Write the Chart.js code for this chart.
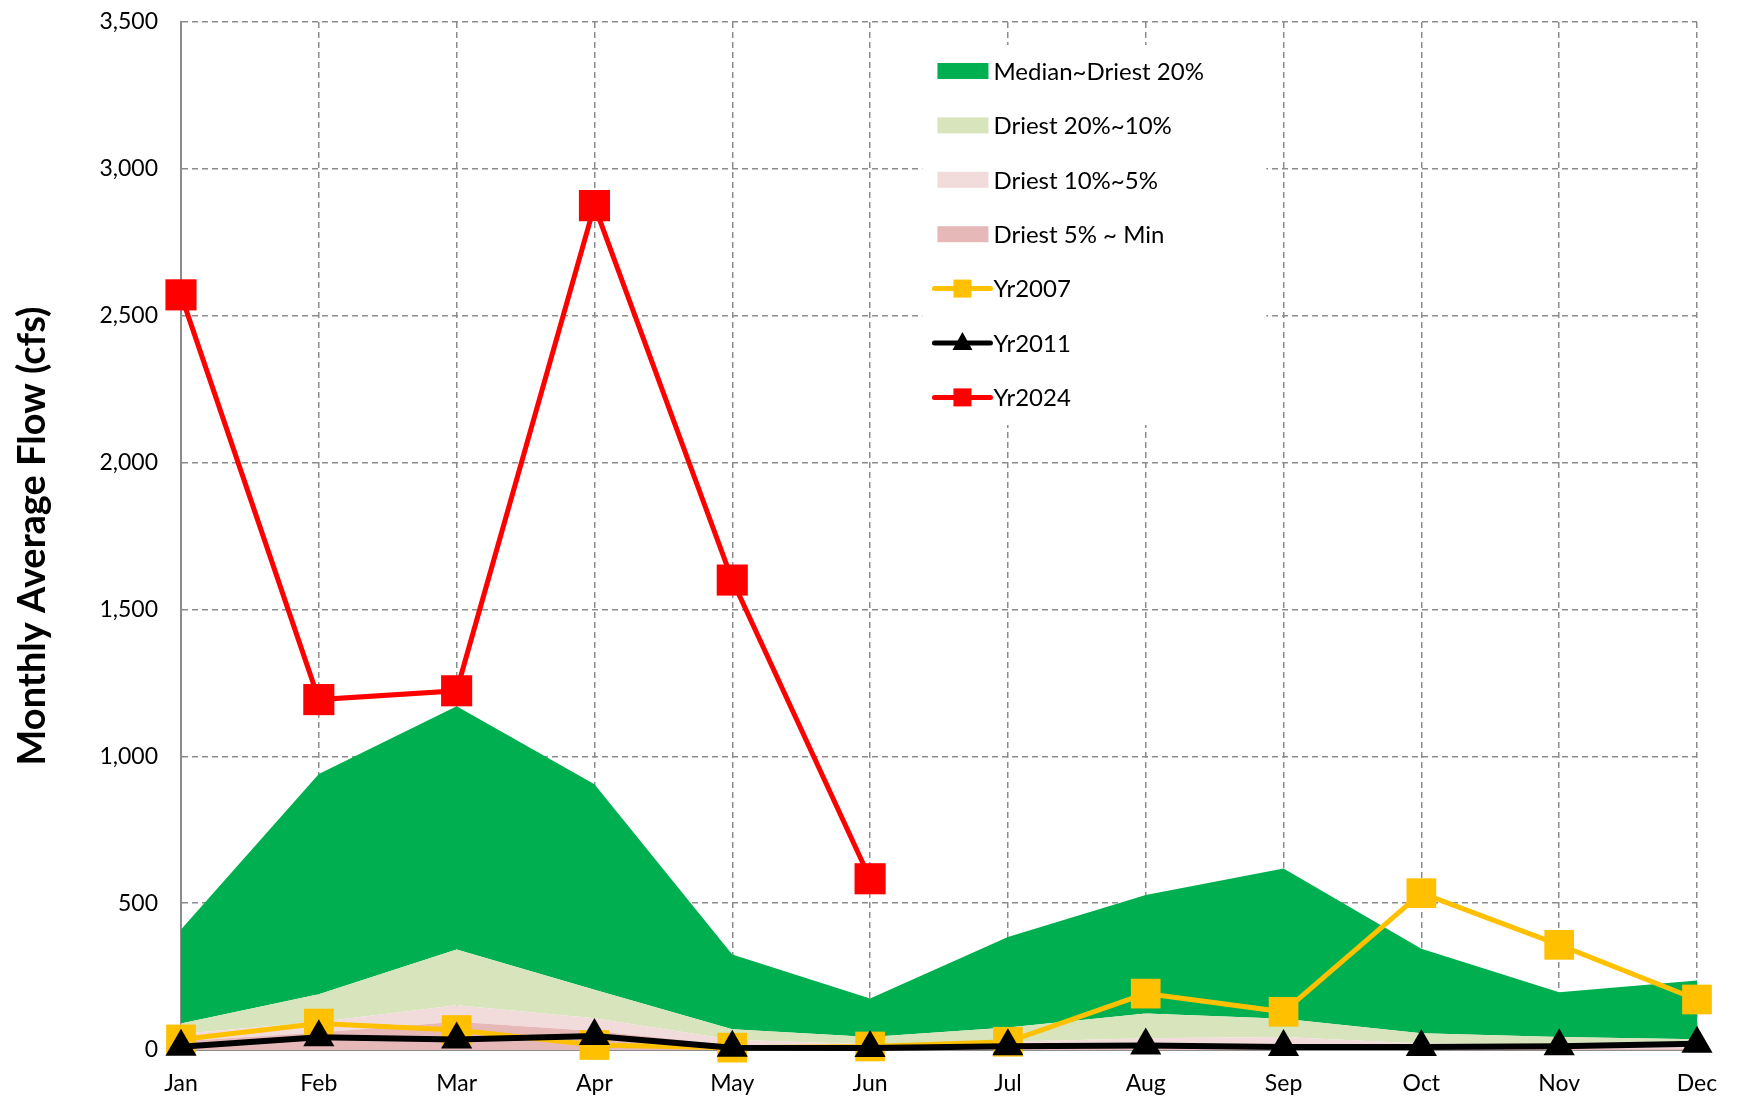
<!DOCTYPE html>
<html>
<head>
<meta charset="utf-8">
<title>Monthly Average Flow</title>
<script src="https://cdn.jsdelivr.net/npm/chart.js@4.4.0/dist/chart.umd.min.js"></script>
<style>
  html, body { margin: 0; padding: 0; background: #ffffff; }
  #flowChart { display: block; }
</style>
</head>
<body>
<canvas id="flowChart" width="1742" height="1099"></canvas>
<script>
// Months on the x axis
const months = ['Jan', 'Feb', 'Mar', 'Apr', 'May', 'Jun', 'Jul', 'Aug', 'Sep', 'Oct', 'Nov', 'Dec'];

// Upper edges of the percentile bands (cfs)
const medianFlow = [410, 940, 1170, 905, 325, 175, 385, 528, 618, 345, 197, 237];
const driest20 = [90, 190, 342, 205, 71, 44, 77, 124, 106, 57, 44, 37];
const driest10 = [55, 95, 152, 108, 35, 20, 28, 40, 44, 22, 17, 10];
const driest5 = [30, 60, 96, 65, 17, 11, 10, 12, 12, 8, 6, 5];

// Individual years (cfs)
const yr2007 = [36, 90, 68, 17, 8, 12, 28, 192, 130, 534, 358, 172];
const yr2011 = [11, 43, 36, 48, 8, 7, 13, 15, 10, 10, 13, 21];
const yr2024 = [2571, 1193, 1223, 2875, 1600, 583, null, null, null, null, null, null];

// Y axis ticks
const yMin = 0;
const yMax = 3500;
const yStep = 500;

const colores = {
    mediana: '#00B050',
    seco20: '#D8E4BC',
    seco10: '#F2DCDB',
    seco5: '#E6B9B8',
    y2007: '#FFC000',
    y2011: '#000000',
    y2024: '#FF0000',
    rejilla: '#8C8C8C'
};

Chart.defaults.font.family = "Lato, 'Open Sans', sans-serif";
Chart.defaults.color = '#000000';

function banda(label, data, color, fill) {
    return {
        label: label,
        data: data,
        backgroundColor: color,
        borderColor: color,
        borderWidth: 0,
        pointRadius: 0,
        pointHoverRadius: 0,
        tension: 0,
        fill: fill,
        order: 10
    };
}

function serie(label, data, color, style, radius, width, order) {
    return {
        label: label,
        data: data,
        borderColor: color,
        backgroundColor: color,
        borderWidth: width,
        pointStyle: style,
        pointRadius: radius,
        pointHoverRadius: radius,
        pointBorderWidth: 0,
        pointBackgroundColor: color,
        tension: 0,
        fill: false,
        clip: false,
        order: order
    };
}

// Legend drawn inside the plot, like the original
const leyendaInterna = {
    id: 'leyendaInterna',
    afterDatasetsDraw(chart) {
        const { ctx, chartArea } = chart;
        const w = chartArea.right - chartArea.left;
        const boxX = chartArea.left + w * 0.489;
        const boxY = chartArea.top + 23;
        const iconX = chartArea.left + w * 0.497;
        const textX = iconX + 59;
        const firstY = chartArea.top + 49;
        const gap = 54.4;

        const items = [
            { t: 'Median~Driest 20%', c: colores.mediana, tipo: 'area' },
            { t: 'Driest 20%~10%', c: colores.seco20, tipo: 'area' },
            { t: 'Driest 10%~5%', c: colores.seco10, tipo: 'area' },
            { t: 'Driest 5% ~ Min', c: colores.seco5, tipo: 'area' },
            { t: 'Yr2007', c: colores.y2007, tipo: 'rect' },
            { t: 'Yr2011', c: colores.y2011, tipo: 'triangle' },
            { t: 'Yr2024', c: colores.y2024, tipo: 'rect' }
        ];

        ctx.save();
        ctx.fillStyle = '#ffffff';
        ctx.fillRect(boxX, boxY, 344, 380);

        ctx.font = "24px Lato, 'Open Sans', sans-serif";
        ctx.textBaseline = 'middle';
        ctx.textAlign = 'left';

        items.forEach((it, i) => {
            const y = firstY + i * gap;
            if (it.tipo === 'area') {
                ctx.fillStyle = it.c;
                ctx.fillRect(iconX + 3, y - 8, 51, 16);
            } else {
                ctx.strokeStyle = it.c;
                ctx.fillStyle = it.c;
                ctx.lineWidth = 5;
                ctx.lineCap = 'round';
                ctx.beginPath();
                ctx.moveTo(iconX, y);
                ctx.lineTo(iconX + 56, y);
                ctx.stroke();
                const cx = iconX + 28;
                if (it.tipo === 'rect') {
                    ctx.fillRect(cx - 9, y - 9, 18, 18);
                } else {
                    ctx.beginPath();
                    ctx.moveTo(cx, y - 11);
                    ctx.lineTo(cx + 10, y + 7);
                    ctx.lineTo(cx - 10, y + 7);
                    ctx.closePath();
                    ctx.fill();
                }
            }
            ctx.fillStyle = '#000000';
            ctx.fillText(it.t, textX, y + 1);
        });
        ctx.restore();
    }
};

const ctx = document.getElementById('flowChart').getContext('2d');

new Chart(ctx, {
    type: 'line',
    data: {
        labels: months,
        datasets: [
            banda('Driest 5% ~ Min', driest5, colores.seco5, 'origin'),
            banda('Driest 10%~5%', driest10, colores.seco10, '-1'),
            banda('Driest 20%~10%', driest20, colores.seco20, '-1'),
            banda('Median~Driest 20%', medianFlow, colores.mediana, '-1'),
            serie('Yr2007', yr2007, colores.y2007, 'rect', 21, 5, 3),
            serie('Yr2011', yr2011, colores.y2011, 'triangle', 18, 6, 2),
            serie('Yr2024', yr2024, colores.y2024, 'rect', 22, 5, 1)
        ]
    },
    options: {
        responsive: false,
        animation: false,
        layout: {
            padding: { left: 0, right: 45, top: 13, bottom: 0 }
        },
        plugins: {
            legend: { display: false },
            tooltip: { enabled: false },
            title: { display: false }
        },
        scales: {
            x: {
                type: 'category',
                offset: false,
                grid: {
                    offset: false,
                    color: colores.rejilla,
                    lineWidth: 1.5,
                    drawTicks: false
                },
                border: {
                    display: true,
                    color: colores.rejilla,
                    width: 2,
                    dash: [6, 4]
                },
                ticks: {
                    color: '#000000',
                    font: { size: 23 },
                    padding: 20,
                    maxRotation: 0,
                    autoSkip: false
                },
                afterFit(scale) {
                    scale.height = 49;
                    scale.paddingLeft = 0;
                    scale.paddingRight = 0;
                }
            },
            y: {
                min: yMin,
                max: yMax,
                grid: {
                    color: colores.rejilla,
                    lineWidth: 1.5,
                    drawTicks: false
                },
                border: {
                    display: true,
                    color: colores.rejilla,
                    width: 2,
                    dash: [6, 4]
                },
                ticks: {
                    stepSize: yStep,
                    color: '#000000',
                    font: { size: 23 },
                    padding: 23,
                    callback: v => v.toLocaleString('en-US')
                },
                title: {
                    display: true,
                    text: 'Monthly Average Flow (cfs)',
                    color: '#000000',
                    font: { size: 38, weight: 'bold' },
                    padding: { top: 10, bottom: 0 }
                },
                afterFit(scale) {
                    scale.width = 181;
                    scale.paddingTop = 0;
                    scale.paddingBottom = 0;
                }
            }
        }
    },
    plugins: [leyendaInterna]
});
</script>
</body>
</html>
